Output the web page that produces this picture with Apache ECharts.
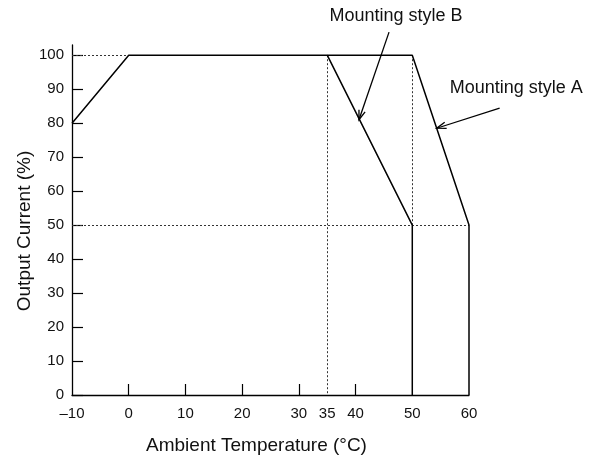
<!DOCTYPE html>
<html>
<head>
<meta charset="utf-8">
<script src="https://cdn.jsdelivr.net/npm/echarts@6/dist/echarts.min.js"></script>
<style>
  html, body { margin: 0; padding: 0; background: #fff; }
  #chart { width: 602px; height: 460px; }
</style>
</head>
<body>
<div id="chart"></div>
<script>
// derating curves (temperature, output %)
var styleA = [[-10, 80], [0, 100], [50, 100], [60, 50], [60, 0]];
var styleB = [[35, 100], [50, 50], [50, 0]];

// dotted guide lines
var guides = [
    [[-10, 100], [0, 100]],
    [[-10, 50], [60, 50]],
    [[35, 100], [35, 0]],
    [[50, 100], [50, 50]]
];

// tick labels
var xLabels = [-10, 0, 10, 20, 30, 35, 40, 50, 60];
var xTicks = [0, 10, 20, 30, 40];
var yLabels = [0, 10, 20, 30, 40, 50, 60, 70, 80, 90, 100];

// annotations
var noteText = ['Mounting style B', 'Mounting style A'];
var notePos = [[35.4, 111.5], [56.6, 90.3]];
var arrowFrom = [[45.9, 106.8], [65.4, 84.4]];
var arrowTo = [[40.6, 81], [54.3, 78.5]];

var font = '"Liberation Sans", Arial, sans-serif';
var chart = echarts.init(document.getElementById('chart'));

function dash(v) {
    return String(v).replace('-', '\u2013');
}

var option = {
    animation: false,
    backgroundColor: '#fff',
    grid: {
        left: 72,
        right: 133,
        top: 45,
        bottom: 65,
        containLabel: false
    },
    xAxis: {
        type: 'value',
        min: -10,
        max: 60,
        name: 'Ambient Temperature (\u00b0C)',
        nameLocation: 'middle',
        nameGap: 41,
        nameTextStyle: {
            fontFamily: font,
            fontSize: 19,
            color: '#111',
            padding: [0, 28, 0, 0]
        },
        axisLine: { onZero: false, lineStyle: { color: '#000', width: 1.3 } },
        axisTick: {
            inside: true,
            length: 11,
            customValues: xTicks,
            lineStyle: { color: '#000', width: 1.2 }
        },
        axisLabel: {
            customValues: xLabels,
            margin: 11,
            fontFamily: font,
            fontSize: 15,
            color: '#111',
            formatter: dash
        },
        splitLine: { show: false }
    },
    yAxis: {
        type: 'value',
        min: 0,
        max: 103,
        name: 'Output Current (%)',
        nameLocation: 'middle',
        nameGap: 38,
        nameMoveOverlap: false,
        nameTextStyle: {
            fontFamily: font,
            fontSize: 19,
            color: '#111',
            padding: [0, 22, 0, 0]
        },
        axisLine: { onZero: false, lineStyle: { color: '#000', width: 1.3 } },
        axisTick: {
            inside: true,
            length: 11,
            customValues: yLabels,
            lineStyle: { color: '#000', width: 1.2 }
        },
        axisLabel: {
            customValues: yLabels,
            margin: 8,
            fontFamily: font,
            fontSize: 15,
            color: '#111'
        },
        splitLine: { show: false }
    },
    series: [
        {
            type: 'lines',
            coordinateSystem: 'cartesian2d',
            z: 1,
            lineStyle: { color: '#333', width: 1, type: [2, 2], opacity: 1 },
            data: guides.map(function (g) { return { coords: g }; })
        },
        {
            name: 'Mounting style A',
            type: 'line',
            z: 3,
            symbol: 'none',
            lineStyle: { color: '#000', width: 1.5 },
            data: styleA
        },
        {
            name: 'Mounting style B',
            type: 'line',
            z: 3,
            symbol: 'none',
            lineStyle: { color: '#000', width: 1.5 },
            data: styleB
        },
        {
            type: 'custom',
            z: 4,
            clip: false,
            data: arrowTo,
            renderItem: function (params, api) {
                var i = params.dataIndex;
                var tip = api.coord(arrowTo[i]);
                var tail = api.coord(arrowFrom[i]);
                var ang = Math.atan2(tail[1] - tip[1], tail[0] - tip[0]);
                var len = 10, spread = 0.33;
                var h1 = [tip[0] + len * Math.cos(ang + spread), tip[1] + len * Math.sin(ang + spread)];
                var h2 = [tip[0] + len * Math.cos(ang - spread), tip[1] + len * Math.sin(ang - spread)];
                var tp = api.coord(notePos[i]);
                return {
                    type: 'group',
                    children: [
                        {
                            type: 'line',
                            shape: { x1: tail[0], y1: tail[1], x2: tip[0], y2: tip[1] },
                            style: { stroke: '#000', lineWidth: 1.3 }
                        },
                        {
                            type: 'polyline',
                            shape: { points: [h1, tip, h2] },
                            style: { stroke: '#000', fill: null, lineWidth: 1.3 }
                        },
                        {
                            type: 'text',
                            x: tp[0],
                            y: tp[1],
                            style: {
                                text: noteText[i],
                                fontFamily: font,
                                fontSize: 18,
                                fill: '#111',
                                align: 'left',
                                verticalAlign: 'middle'
                            }
                        }
                    ]
                };
            }
        }
    ]
};
chart.setOption(option);
</script>
</body>
</html>
